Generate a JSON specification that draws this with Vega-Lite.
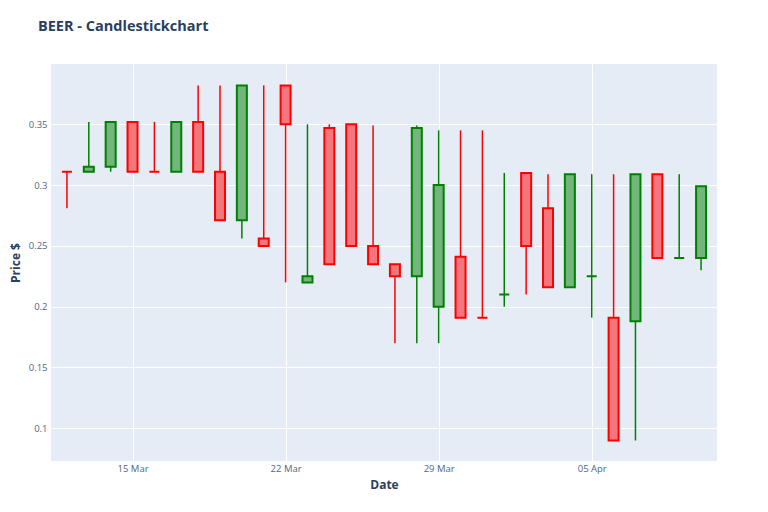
{
  "$schema": "https://vega.github.io/schema/vega-lite/v6.json",
  "width": 666,
  "height": 397,
  "autosize": {"type": "none"},
  "padding": {"left": 51, "top": 64, "right": 51, "bottom": 51},
  "background": "white",
  "title": {
    "text": "BEER - Candlestickchart",
    "anchor": "start",
    "frame": "group",
    "dx": -13,
    "offset": 19,
    "baseline": "alphabetic",
    "font": "Open Sans",
    "fontSize": 14.5,
    "fontWeight": "bold",
    "color": "#2a3f5f"
  },
  "config": {
    "view": {"fill": "#e5ecf6", "stroke": null},
    "axis": {
      "domain": false,
      "ticks": false,
      "gridColor": "white",
      "gridWidth": 1,
      "gridOpacity": 1,
      "labelFont": "Open Sans",
      "labelFontSize": 9.5,
      "labelColor": "#506784",
      "titleFont": "Open Sans",
      "titleFontSize": 12,
      "titleFontWeight": "bold",
      "titleColor": "#2a3f5f"
    }
  },
  "data": {
    "values": [
      {"date": "2020-03-12", "open": 0.311, "high": 0.311, "low": 0.281, "close": 0.311, "dir": "down"},
      {"date": "2020-03-13", "open": 0.311, "high": 0.352, "low": 0.311, "close": 0.315, "dir": "up"},
      {"date": "2020-03-14", "open": 0.315, "high": 0.352, "low": 0.311, "close": 0.352, "dir": "up"},
      {"date": "2020-03-15", "open": 0.352, "high": 0.352, "low": 0.311, "close": 0.311, "dir": "down"},
      {"date": "2020-03-16", "open": 0.311, "high": 0.352, "low": 0.311, "close": 0.311, "dir": "down"},
      {"date": "2020-03-17", "open": 0.311, "high": 0.352, "low": 0.311, "close": 0.352, "dir": "up"},
      {"date": "2020-03-18", "open": 0.352, "high": 0.382, "low": 0.311, "close": 0.311, "dir": "down"},
      {"date": "2020-03-19", "open": 0.311, "high": 0.382, "low": 0.271, "close": 0.271, "dir": "down"},
      {"date": "2020-03-20", "open": 0.271, "high": 0.382, "low": 0.256, "close": 0.382, "dir": "up"},
      {"date": "2020-03-21", "open": 0.256, "high": 0.382, "low": 0.25, "close": 0.25, "dir": "down"},
      {"date": "2020-03-22", "open": 0.382, "high": 0.382, "low": 0.22, "close": 0.35, "dir": "down"},
      {"date": "2020-03-23", "open": 0.22, "high": 0.35, "low": 0.22, "close": 0.225, "dir": "up"},
      {"date": "2020-03-24", "open": 0.347, "high": 0.35, "low": 0.235, "close": 0.235, "dir": "down"},
      {"date": "2020-03-25", "open": 0.35, "high": 0.35, "low": 0.25, "close": 0.25, "dir": "down"},
      {"date": "2020-03-26", "open": 0.25, "high": 0.349, "low": 0.235, "close": 0.235, "dir": "down"},
      {"date": "2020-03-27", "open": 0.235, "high": 0.235, "low": 0.17, "close": 0.225, "dir": "down"},
      {"date": "2020-03-28", "open": 0.225, "high": 0.349, "low": 0.17, "close": 0.347, "dir": "up"},
      {"date": "2020-03-29", "open": 0.2, "high": 0.345, "low": 0.17, "close": 0.3, "dir": "up"},
      {"date": "2020-03-30", "open": 0.241, "high": 0.345, "low": 0.191, "close": 0.191, "dir": "down"},
      {"date": "2020-03-31", "open": 0.191, "high": 0.345, "low": 0.191, "close": 0.191, "dir": "down"},
      {"date": "2020-04-01", "open": 0.21, "high": 0.31, "low": 0.2, "close": 0.21, "dir": "up"},
      {"date": "2020-04-02", "open": 0.31, "high": 0.31, "low": 0.21, "close": 0.25, "dir": "down"},
      {"date": "2020-04-03", "open": 0.281, "high": 0.309, "low": 0.216, "close": 0.216, "dir": "down"},
      {"date": "2020-04-04", "open": 0.216, "high": 0.309, "low": 0.216, "close": 0.309, "dir": "up"},
      {"date": "2020-04-05", "open": 0.225, "high": 0.309, "low": 0.191, "close": 0.225, "dir": "up"},
      {"date": "2020-04-06", "open": 0.191, "high": 0.309, "low": 0.09, "close": 0.09, "dir": "down"},
      {"date": "2020-04-07", "open": 0.188, "high": 0.309, "low": 0.09, "close": 0.309, "dir": "up"},
      {"date": "2020-04-08", "open": 0.309, "high": 0.309, "low": 0.24, "close": 0.24, "dir": "down"},
      {"date": "2020-04-09", "open": 0.24, "high": 0.309, "low": 0.24, "close": 0.24, "dir": "up"},
      {"date": "2020-04-10", "open": 0.24, "high": 0.299, "low": 0.23, "close": 0.299, "dir": "up"}
    ]
  },
  "encoding": {
    "x": {
      "field": "date",
      "type": "temporal",
      "title": "Date",
      "scale": {
        "type": "utc",
        "domain": [
          {"year": 2020, "month": "mar", "date": 11, "hours": 12, "utc": true},
          {"year": 2020, "month": "apr", "date": 10, "hours": 12, "utc": true}
        ]
      },
      "axis": {
        "values": [
          {"year": 2020, "month": "mar", "date": 15, "utc": true},
          {"year": 2020, "month": "mar", "date": 22, "utc": true},
          {"year": 2020, "month": "mar", "date": 29, "utc": true},
          {"year": 2020, "month": "apr", "date": 5, "utc": true}
        ],
        "format": "%d %b",
        "labelPadding": 2,
        "titleY": 23,
        "titleBaseline": "middle"
      }
    }
  },
  "layer": [
    {
      "mark": {"type": "rule", "strokeWidth": 1.5},
      "encoding": {
        "y": {
          "field": "low",
          "type": "quantitative",
          "title": "Price $",
          "scale": {"domain": [0.0731, 0.3996], "nice": false, "zero": false},
          "axis": {
            "values": [0.1, 0.15, 0.2, 0.25, 0.3, 0.35],
            "format": ".2~f",
            "labelPadding": 4,
            "titleX": -36,
            "titleY": 198.5,
            "titleBaseline": "middle",
            "titleAlign": "center"
          }
        },
        "y2": {"field": "high"},
        "stroke": {
          "field": "dir",
          "type": "nominal",
          "scale": {"domain": ["up", "down"], "range": ["#008000", "#ff0000"]},
          "legend": null
        }
      }
    },
    {
      "mark": {"type": "bar", "size": 10, "strokeWidth": 2, "fillOpacity": 1},
      "encoding": {
        "y": {"field": "open", "type": "quantitative"},
        "y2": {"field": "close"},
        "fill": {
          "field": "dir",
          "type": "nominal",
          "scale": {"domain": ["up", "down"], "range": ["#72b67b", "#f2767b"]},
          "legend": null
        },
        "stroke": {
          "field": "dir",
          "type": "nominal",
          "scale": {"domain": ["up", "down"], "range": ["#008000", "#ff0000"]},
          "legend": null
        }
      }
    }
  ]
}
